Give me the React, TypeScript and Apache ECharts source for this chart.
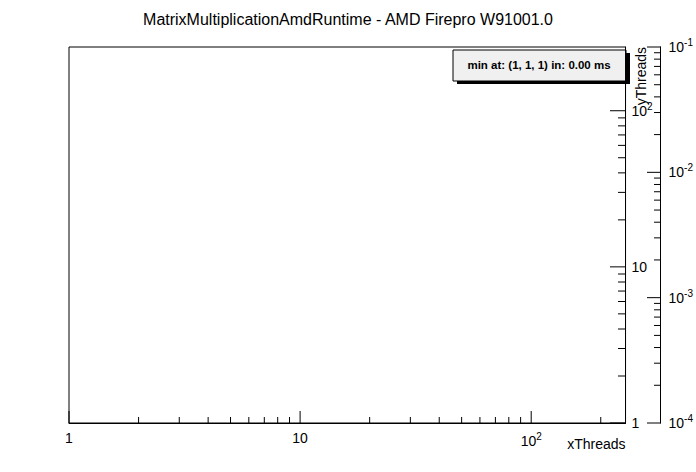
import { useEffect, useRef } from 'react'
import * as echarts from 'echarts'

const title = 'MatrixMultiplicationAmdRuntime - AMD Firepro W91001.0'
const statsText = 'min at: (1, 1, 1) in: 0.00 ms'
const xRange = [1, 256]
const yRange = [1, 256]
const zRange = [0.0001, 0.1]
const points: number[][] = []

const sup = (v: number) => {
  const e = Math.round(Math.log10(v))
  if (e === 0) return '1'
  if (e === 1) return '10'
  return `{b|10}{s|${e}}`
}

const minorValues = (lo: number, hi: number) => {
  const out: number[] = []
  for (let e = Math.floor(Math.log10(lo)); e <= Math.ceil(Math.log10(hi)); e++) {
    for (let m = 1; m <= 9; m++) {
      const v = m * Math.pow(10, e)
      if (v >= lo * 0.999 && v <= hi * 1.001) out.push(v)
    }
  }
  return out
}

const rich = {
  b: { fontSize: 14, color: '#000', fontFamily: 'Liberation Sans' },
  s: { fontSize: 10, color: '#000', fontFamily: 'Liberation Sans', padding: [0, 0, 9, 0] }
}

export default function App() {
  const ref = useRef<HTMLDivElement | null>(null)

  useEffect(() => {
    if (!ref.current) return
    document.body.style.margin = '0'
    const chart = echarts.init(ref.current, null, { renderer: 'svg' })
    const axisLabel = { color: '#000', fontSize: 14, fontFamily: 'Liberation Sans', rich }
    chart.setOption({
      animation: false,
      backgroundColor: '#fff',
      title: {
        text: title,
        left: 'center',
        top: 6,
        textStyle: { fontSize: 16, fontWeight: 'normal', color: '#000', fontFamily: 'Liberation Sans' }
      },
      grid: { left: 69, right: 70, top: 47, bottom: 49, show: true, borderColor: '#000', borderWidth: 1 },
      xAxis: {
        type: 'log', logBase: 10, min: xRange[0], max: xRange[1],
        name: 'xThreads', nameLocation: 'end', nameGap: 0,
        nameTextStyle: { color: '#000', fontSize: 14, fontFamily: 'Liberation Sans', align: 'right', verticalAlign: 'top', padding: [14, 0, 0, 0] },
        axisLine: { lineStyle: { color: '#000' } },
        axisTick: { show: false },
        splitLine: { show: false },
        axisLabel: { ...axisLabel, formatter: (v: number) => sup(v), showMaxLabel: false, margin: 8 }
      },
      yAxis: [
        {
          type: 'log', logBase: 10, min: yRange[0], max: yRange[1], position: 'right',
          axisLine: { lineStyle: { color: '#000' } },
          axisTick: { show: false },
          splitLine: { show: false },
          axisLabel: { ...axisLabel, formatter: (v: number) => sup(v), showMaxLabel: false, margin: 6, verticalAlign: 'middle' }
        },
        {
          type: 'log', logBase: 10, min: zRange[0], max: zRange[1], position: 'right', offset: 35,
          axisLine: { show: true, lineStyle: { color: '#000' } },
          axisTick: { show: false },
          splitLine: { show: false },
          axisLabel: { ...axisLabel, formatter: (v: number) => `{b|10}{s|${Math.round(Math.log10(v))}}`, margin: 8 }
        }
      ],
      series: [{ type: 'scatter', data: points, xAxisIndex: 0, yAxisIndex: 0 }]
    })

    const lines: any[] = []
    const line = (x1: number, y1: number, x2: number, y2: number) =>
      lines.push({ type: 'line', silent: true, shape: { x1, y1, x2, y2 }, style: { stroke: '#000', lineWidth: 1 } })
    const isMajor = (v: number) => Math.abs(Math.log10(v) - Math.round(Math.log10(v))) < 1e-6
    const bottom = 423, yAxisX = 626, zAxisX = 661
    minorValues(xRange[0], xRange[1]).forEach((v) => {
      const px = chart.convertToPixel({ xAxisIndex: 0 }, v) as number
      line(px, bottom, px, bottom - (isMajor(v) ? 12 : 6))
    })
    minorValues(yRange[0], yRange[1]).forEach((v) => {
      const py = chart.convertToPixel({ yAxisIndex: 0 }, v) as number
      line(yAxisX, py, yAxisX - (isMajor(v) ? 16 : 8), py)
    })
    minorValues(zRange[0], zRange[1]).forEach((v) => {
      const py = chart.convertToPixel({ yAxisIndex: 1 }, v) as number
      line(zAxisX, py, zAxisX - (isMajor(v) ? 14 : 7), py)
    })

    chart.setOption({
      graphic: [
        ...lines,
        {
          type: 'text', x: 634, y: 47, rotation: Math.PI / 2,
          style: { text: 'yThreads', fill: '#000', font: '14px "Liberation Sans"', align: 'right', verticalAlign: 'top' }
        },
        { type: 'rect', shape: { x: 457, y: 53, width: 173, height: 31 }, style: { fill: '#000' } },
        { type: 'rect', shape: { x: 453, y: 50, width: 173, height: 31 }, style: { fill: '#f0f0f0', stroke: '#000', lineWidth: 1 } },
        {
          type: 'text', x: 539, y: 65,
          style: { text: statsText, fill: '#000', font: 'bold 11.5px "Liberation Sans"', align: 'center', verticalAlign: 'middle' }
        }
      ]
    })

    return () => chart.dispose()
  }, [])

  return <div ref={ref} style={{ width: 696, height: 472 }} />
}
